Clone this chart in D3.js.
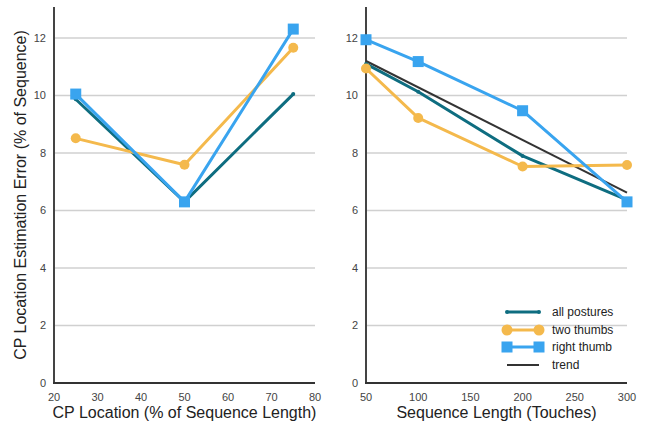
<!DOCTYPE html>
<html><head><meta charset="utf-8">
<script src="https://cdn.jsdelivr.net/npm/d3@7"></script>
<style>body{margin:0;background:#fff;}svg{display:block;font-family:"Liberation Sans",Arial,sans-serif;}</style>
</head><body><svg id="c" width="649" height="424"></svg>
<script>
// Left panel data
const cpLocations = [25, 50, 75];
const leftAll = [9.87, 6.3, 10.05];
const leftTwo = [8.51, 7.59, 11.66];
const leftRight = [10.05, 6.3, 12.31];
// Right panel data
const seqLengths = [50, 100, 200, 300];
const rightAll = [11.1, 10.13, 7.9, 6.37];
const rightTwo = [10.94, 9.22, 7.53, 7.58];
const rightRight = [11.94, 11.18, 9.47, 6.3];
const trendEnds = [[50, 11.2], [300, 6.62]];
const yTicks = [0, 2, 4, 6, 8, 10, 12];
const leftXTicks = [20, 30, 40, 50, 60, 70, 80];
const rightXTicks = [50, 100, 150, 200, 250, 300];
const seriesNames = ["all postures", "two thumbs", "right thumb", "trend"];

const colors = {all: "#0e6d80", two: "#f4b94c", right: "#39a4ef", trend: "#333333"};
const svg = d3.select("#c");

const y = d3.scaleLinear().domain([0, 12]).range([383, 38]);

function panel(x0, x1, xDomain, xTicks, xTitle, series, trend, legend) {
  const x = d3.scaleLinear().domain(xDomain).range([x0, x1]);
  const g = svg.append("g");
  // gridlines
  g.selectAll("line.grid").data(yTicks.filter(d => d > 0)).enter().append("line")
    .attr("x1", x0).attr("x2", x1).attr("y1", d => y(d)).attr("y2", d => y(d))
    .attr("stroke", "#d0d0d0").attr("stroke-width", 1.5);
  // y tick labels
  g.selectAll("text.yt").data(yTicks).enter().append("text")
    .attr("x", x0 - 8).attr("y", d => y(d)).attr("dy", "0.35em")
    .attr("text-anchor", "end").attr("font-size", 11).attr("fill", "#444").text(d => d);
  // x tick labels
  g.selectAll("text.xt").data(xTicks).enter().append("text")
    .attr("x", d => x(d)).attr("y", 401)
    .attr("text-anchor", "middle").attr("font-size", 11).attr("fill", "#444").text(d => d);
  // axes
  g.append("line").attr("x1", x0).attr("x2", x0).attr("y1", 7).attr("y2", 384)
    .attr("stroke", "#444").attr("stroke-width", 2);
  g.append("line").attr("x1", x0 - 1).attr("x2", x1).attr("y1", 383).attr("y2", 383)
    .attr("stroke", "#333").attr("stroke-width", 2);
  // x title
  g.append("text").attr("x", (x0 + x1) / 2).attr("y", 418).attr("text-anchor", "middle")
    .attr("font-size", 16).attr("fill", "#222").text(xTitle);

  const line = d3.line().x(d => x(d[0])).y(d => y(d[1]));
  if (trend) {
    g.append("path").attr("d", line(trend)).attr("fill", "none")
      .attr("stroke", colors.trend).attr("stroke-width", 2);
  }
  series.forEach(s => {
    const pts = s.xs.map((v, i) => [v, s.ys[i]]);
    g.append("path").attr("d", line(pts)).attr("fill", "none")
      .attr("stroke", s.color).attr("stroke-width", 3).attr("stroke-linejoin", "round");
    if (s.marker === "circle") {
      g.selectAll(null).data(pts).enter().append("circle")
        .attr("cx", d => x(d[0])).attr("cy", d => y(d[1])).attr("r", s.r).attr("fill", s.color);
    } else {
      g.selectAll(null).data(pts).enter().append("rect")
        .attr("x", d => x(d[0]) - 5.5).attr("y", d => y(d[1]) - 5.5)
        .attr("width", 11).attr("height", 11).attr("fill", s.color);
    }
  });
  if (legend) {
    const items = [
      {name: seriesNames[0], color: colors.all, marker: "circle", r: 2, w: 3},
      {name: seriesNames[1], color: colors.two, marker: "circle", r: 5.5, w: 3},
      {name: seriesNames[2], color: colors.right, marker: "rect", w: 3},
      {name: seriesNames[3], color: colors.trend, marker: null, w: 2}
    ];
    const lx0 = 507, lx1 = 539, tx = 552;
    const rows = [312, 330, 347, 365];
    items.forEach((it, i) => {
      const ly = rows[i];
      g.append("line").attr("x1", lx0).attr("x2", lx1).attr("y1", ly).attr("y2", ly)
        .attr("stroke", it.color).attr("stroke-width", it.w);
      [lx0, lx1].forEach(px => {
        if (it.marker === "circle") g.append("circle").attr("cx", px).attr("cy", ly).attr("r", it.r).attr("fill", it.color);
        else if (it.marker === "rect") g.append("rect").attr("x", px - 5.5).attr("y", ly - 5.5).attr("width", 11).attr("height", 11).attr("fill", it.color);
      });
      g.append("text").attr("x", tx).attr("y", ly).attr("dy", "0.35em").attr("font-size", 12)
        .attr("fill", "#222").text(it.name);
    });
  }
}

panel(54, 315, [20, 80], leftXTicks, "CP Location (% of Sequence Length)", [
  {xs: cpLocations, ys: leftAll, color: colors.all, marker: "circle", r: 2},
  {xs: cpLocations, ys: leftTwo, color: colors.two, marker: "circle", r: 5},
  {xs: cpLocations, ys: leftRight, color: colors.right, marker: "rect"}
], null, false);

panel(366, 627, [50, 300], rightXTicks, "Sequence Length (Touches)", [
  {xs: seqLengths, ys: rightAll, color: colors.all, marker: "circle", r: 2},
  {xs: seqLengths, ys: rightTwo, color: colors.two, marker: "circle", r: 5},
  {xs: seqLengths, ys: rightRight, color: colors.right, marker: "rect"}
], trendEnds, true);

// y title
svg.append("text").attr("transform", "translate(26,195) rotate(-90)").attr("text-anchor", "middle")
  .attr("font-size", 16).attr("fill", "#222").text("CP Location Estimation Error (% of Sequence)");
</script></body></html>
